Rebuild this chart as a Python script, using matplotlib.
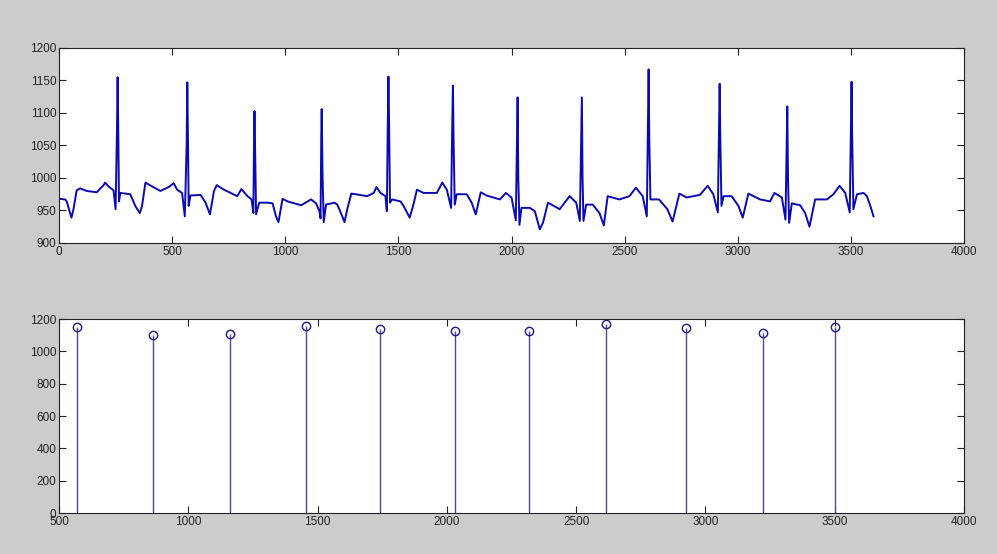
"""
ECG trace (top) and detected R-peak stem plot (bottom), MATLAB-style figure.
"""
import matplotlib
matplotlib.use("Agg")
import matplotlib.pyplot as plt

# ECG trace vertices (sample index, amplitude)
ecg_x = [0, 27, 34, 49, 55, 64, 78, 93, 123, 167, 197, 204, 219, 241, 250,
         256, 259, 262, 265, 271, 315, 337, 357, 367, 382, 396, 448, 485, 507,
         522, 544, 556, 564, 567, 570, 573, 581, 626, 648, 667, 685, 697, 729,
         788, 806, 833, 851, 859, 862, 864, 867, 871, 885, 922, 944, 959, 970,
         988, 1010, 1070, 1114, 1136, 1151, 1156, 1159, 1161, 1165, 1170, 1180,
         1217, 1230, 1252, 1262, 1274, 1292, 1311, 1362, 1391, 1403, 1421, 1443,
         1449, 1453, 1456, 1459, 1463, 1472, 1509, 1523, 1550, 1565, 1582, 1611,
         1670, 1694, 1714, 1733, 1738, 1741, 1744, 1749, 1758, 1802, 1824, 1842,
         1864, 1890, 1949, 1975, 2000, 2019, 2024, 2027, 2030, 2035, 2044, 2081,
         2103, 2125, 2139, 2161, 2213, 2257, 2286, 2302, 2308, 2311, 2314, 2318,
         2330, 2359, 2389, 2408, 2425, 2477, 2521, 2550, 2580, 2598, 2603, 2606,
         2609, 2614, 2652, 2689, 2712, 2742, 2774, 2833, 2867, 2892, 2912, 2917,
         2920, 2923, 2928, 2937, 2973, 3003, 3022, 3047, 3099, 3143, 3162, 3195,
         3211, 3216, 3219, 3222, 3227, 3239, 3276, 3298, 3317, 3342, 3394, 3423,
         3450, 3475, 3495, 3500, 3503, 3506, 3511, 3527, 3556, 3571, 3586, 3600]
ecg_y = [968, 967, 964, 946, 939, 952, 981, 984, 980, 978, 989, 993, 987, 981, 952,
         1070, 1155, 1070, 964, 977, 975, 957, 946, 957, 993, 990, 980, 986, 992,
         982, 977, 941, 1050, 1147, 1060, 957, 973, 974, 962, 944, 980, 989, 982,
         972, 983, 972, 967, 946, 1060, 1103, 1040, 944, 962, 962, 961, 941, 932,
         968, 964, 958, 967, 961, 949, 938, 1060, 1106, 1000, 932, 959,
         962, 959, 941, 932, 952, 976, 975, 972, 977, 986, 977, 972,
         949, 1080, 1156, 1080, 962, 967, 964, 957, 939, 957, 982, 977,
         977, 993, 982, 954, 1080, 1142, 1060, 959, 975, 975, 962, 944,
         978, 973, 967, 977, 970, 935, 1060, 1124, 1000, 928, 954, 954,
         949, 921, 931, 962, 952, 972, 962, 934, 1060, 1124, 1000, 934,
         959, 959, 946, 927, 972, 967, 972, 985, 972, 941, 1080, 1167,
         1060, 967, 967, 952, 933, 976, 970, 974, 988, 975, 947, 1070,
         1145, 1060, 957, 972, 972, 957, 939, 976, 967, 964, 977, 970,
         936, 1050, 1110, 1000, 931, 961, 958, 946, 925, 967, 967, 975,
         988, 977, 947, 1080, 1148, 1060, 952, 975, 977, 972, 957, 941]

# detected R peaks (bottom panel)
peak_locs = [570, 863, 1161, 1455, 1742, 2031, 2316, 2614, 2925, 3222, 3503]
peak_vals = [1151, 1103, 1107, 1157, 1140, 1124, 1124, 1169, 1146, 1116, 1153]

FIG_BG = "#cccccc"
LINE_C = "#0a0ab4"
STEM_C = "#4a4a96"

plt.rcParams["font.family"] = ["Liberation Sans", "DejaVu Sans"]

fig = plt.figure(figsize=(9.97, 5.54), dpi=100, facecolor=FIG_BG)
ax1 = fig.add_axes([0.0592, 0.5614, 0.9077, 0.352])
ax2 = fig.add_axes([0.0592, 0.074, 0.9077, 0.350])

ax1.plot(ecg_x, ecg_y, color=LINE_C, linewidth=1.4, solid_joinstyle="round")
ax1.set_xlim(0, 4000)
ax1.set_ylim(900, 1200)
ax1.set_xticks(range(0, 4001, 500))
ax1.set_yticks(range(900, 1201, 50))

markers, stems, base = ax2.stem(peak_locs, peak_vals, basefmt=" ")
plt.setp(stems, color=STEM_C, linewidth=1.0)
plt.setp(markers, color=STEM_C, markerfacecolor="none", markeredgecolor="#1c1c8c",
         markersize=6, markeredgewidth=1.0)
ax2.set_xlim(500, 4000)
ax2.set_ylim(0, 1200)
ax2.set_xticks(range(500, 4001, 500))
ax2.set_yticks(range(0, 1201, 200))

for ax in (ax1, ax2):
    ax.set_facecolor("white")
    ax.tick_params(direction="in", length=5, width=0.8, top=True, right=True,
                   labelsize=8.5, colors="#222222", pad=2)
    for s in ax.spines.values():
        s.set_linewidth(0.8)
        s.set_color("#222222")

fig.savefig("out.png", dpi=100, facecolor=FIG_BG)
